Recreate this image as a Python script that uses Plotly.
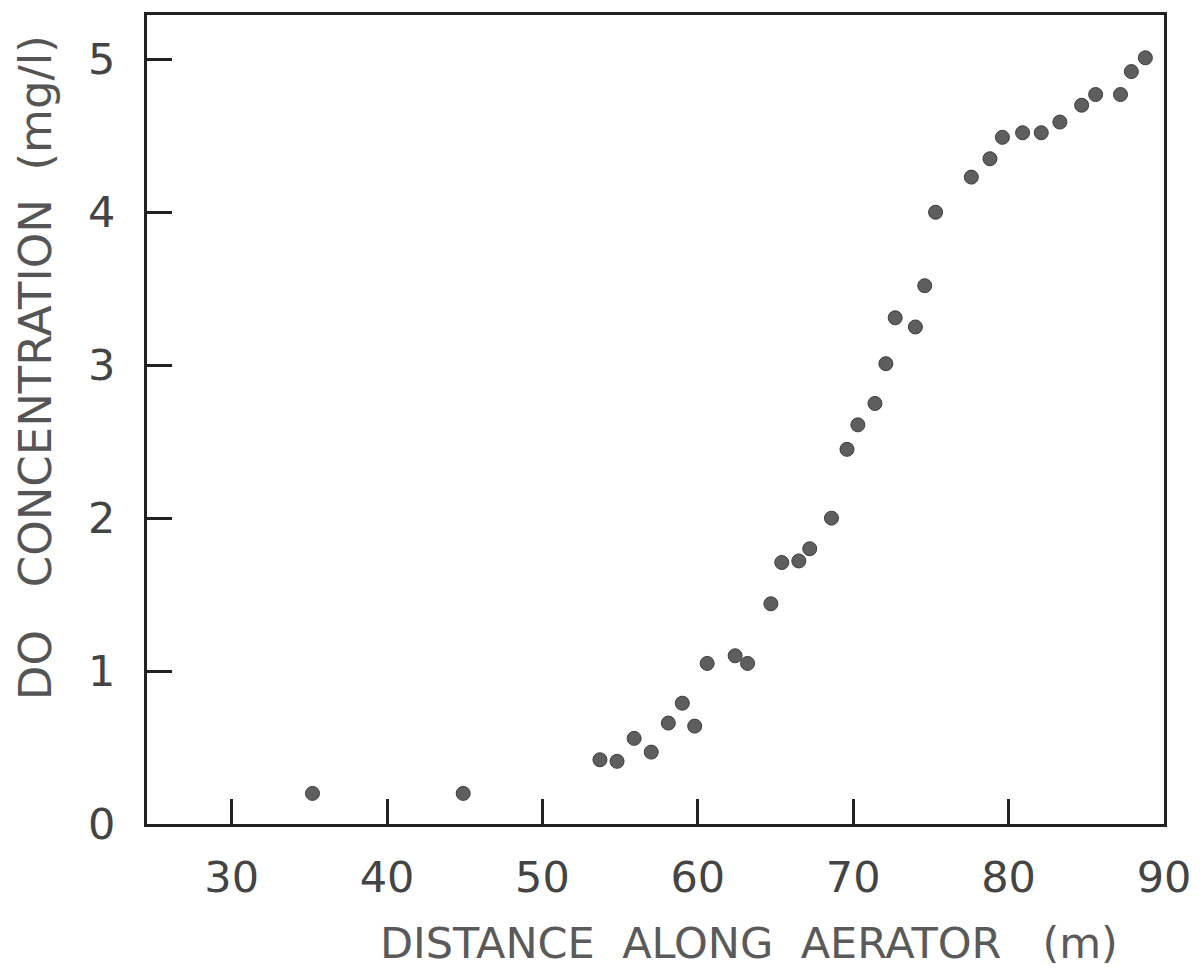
import plotly.graph_objects as go

# Data
distance_m = [35.2, 44.9, 53.7, 54.8, 55.9, 57.0, 58.1, 59.0, 59.8, 60.6,
              62.4, 63.2, 64.7, 65.4, 66.5, 67.2, 68.6, 69.6, 70.3, 71.4,
              72.1, 72.7, 74.0, 74.6, 75.3, 77.6, 78.8, 79.6, 80.9, 82.1,
              83.3, 84.7, 85.6, 87.2, 87.9, 88.8]
do_mg_l = [0.20, 0.20, 0.42, 0.41, 0.56, 0.47, 0.66, 0.79, 0.64, 1.05,
           1.10, 1.05, 1.44, 1.71, 1.72, 1.80, 2.00, 2.45, 2.61, 2.75,
           3.01, 3.31, 3.25, 3.52, 4.00, 4.23, 4.35, 4.49, 4.52, 4.52,
           4.59, 4.70, 4.77, 4.77, 4.92, 5.01]

x_ticks = [30, 40, 50, 60, 70, 80, 90]
y_ticks = [0, 1, 2, 3, 4, 5]
y_tick_text = ["0", "1", "2", "3", "4", "5"]

x_title = "DISTANCE&nbsp; ALONG&nbsp; AERATOR&nbsp;&nbsp; (m)"
y_title = "DO&nbsp;&nbsp; CONCENTRATION&nbsp; (mg/l)"

fig = go.Figure()
fig.add_trace(go.Scatter(
    x=distance_m, y=do_mg_l, mode="markers",
    marker=dict(size=14, color="#5e5e5e", line=dict(color="#3c3c3c", width=1)),
    showlegend=False,
))

axis_common = dict(
    showline=True, linecolor="#222222", linewidth=3, mirror=True,
    ticks="inside", ticklen=25, tickwidth=2.5, tickcolor="#222222",
    showgrid=False, zeroline=False,
    tickfont=dict(family="DejaVu Sans", size=43, color="#444444"),
)

fig.update_xaxes(range=[24.55, 90], tickmode="array", tickvals=x_ticks,
                 ticklabelstandoff=13, **axis_common)
fig.update_yaxes(range=[0, 5.29], tickmode="array", tickvals=y_ticks,
                 ticktext=y_tick_text, ticklabelstandoff=20, **axis_common)

fig.add_annotation(text=x_title, xref="paper", yref="paper",
                   x=(751 - 147) / (1168 - 147), y=-(943 - 824) / (824 - 12),
                   xanchor="center", yanchor="middle", showarrow=False,
                   font=dict(family="DejaVu Sans", size=43, color="#5a5a5a"))
fig.add_annotation(text=y_title, xref="paper", yref="paper",
                   x=-(147 - 35) / (1168 - 147), y=(824 - 366) / (824 - 12),
                   xanchor="center", yanchor="middle", textangle=-90, showarrow=False,
                   font=dict(family="DejaVu Sans", size=45, color="#555555"))

fig.update_layout(
    width=1203, height=968, autosize=False,
    margin=dict(l=147, r=35, t=12, b=144),
    paper_bgcolor="white", plot_bgcolor="white",
)

fig.write_html("out.html")
